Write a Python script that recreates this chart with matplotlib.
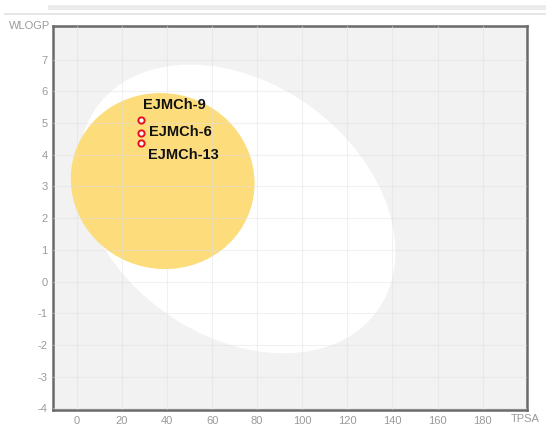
import matplotlib
matplotlib.use("Agg")
import matplotlib.pyplot as plt
from matplotlib.patches import Ellipse, Rectangle

plt.rcParams["font.family"] = ["Liberation Sans", "DejaVu Sans"]
plt.rcParams["axes.unicode_minus"] = False

# egg regions (center x, center y, width, height, angle in data space)
white_ellipse = (71.05, 2.29, 140.5, 8.70, -1.1)
yolk_ellipse = (38.1, 3.17, 81.5, 5.55, -0.1)

# molecules
names = ["EJMCh-9", "EJMCh-6", "EJMCh-13"]
tpsa = [28.4, 28.4, 28.4]
wlogp = [5.08, 4.70, 4.36]
label_x = [29.4, 32.0, 31.6]
label_y = [5.57, 4.72, 4.00]

x_ticks = [0, 20, 40, 60, 80, 100, 120, 140, 160, 180]
y_ticks = [-4, -3, -2, -1, 0, 1, 2, 3, 4, 5, 6, 7]

fig = plt.figure(figsize=(5.5, 4.29), dpi=100)
fig.patch.set_facecolor("white")

# browser scroll-bar remnants at the top
fig.patches.append(Rectangle((0.087, 0.977), 0.905, 0.011, transform=fig.transFigure,
                             facecolor="#ececec", edgecolor="none"))
fig.patches.append(Rectangle((0.007, 0.966), 0.985, 0.004, transform=fig.transFigure,
                             facecolor="#e6e6e6", edgecolor="none"))

ax = fig.add_axes([0.0969, 0.0443, 0.8607, 0.8951])
ax.set_facecolor("#f2f2f2")
ax.set_xlim(-10.4, 199.5)
ax.set_ylim(-4.05, 8.06)

cx, cy, w, h, a = white_ellipse
ax.add_patch(Ellipse((cx, cy), w, h, angle=a, facecolor="white", edgecolor="none", zorder=1))
cx, cy, w, h, a = yolk_ellipse
ax.add_patch(Ellipse((cx, cy), w, h, angle=a, facecolor="#fddc7c", edgecolor="none", zorder=2))

for xt in x_ticks:
    ax.axvline(xt, color="#e0e0e0", lw=0.8, alpha=0.45, zorder=3)
for yt in y_ticks:
    ax.axhline(yt, color="#e0e0e0", lw=0.8, alpha=0.45, zorder=3)

ax.plot(tpsa, wlogp, "o", ms=4.5, mfc="white", mec="#e8101a", mew=1.4, zorder=5)
for n, lx, ly in zip(names, label_x, label_y):
    ax.text(lx, ly, n, fontsize=10.5, fontweight="bold", color="#111111",
            ha="left", va="center", zorder=6)

ax.set_xticks(x_ticks)
ax.set_yticks(y_ticks)
ax.tick_params(length=0, labelsize=8, labelcolor="#9a9a9a", pad=4)
for s in ax.spines.values():
    s.set_color("#6a6a6a")
    s.set_linewidth(1.8)

fig.text(0.091, 0.939, "WLOGP", fontsize=8, color="#9a9a9a", ha="right", va="center")
fig.text(0.955, 0.023, "TPSA", fontsize=8, color="#9a9a9a", ha="center", va="center")

fig.savefig("out.png", dpi=100)
